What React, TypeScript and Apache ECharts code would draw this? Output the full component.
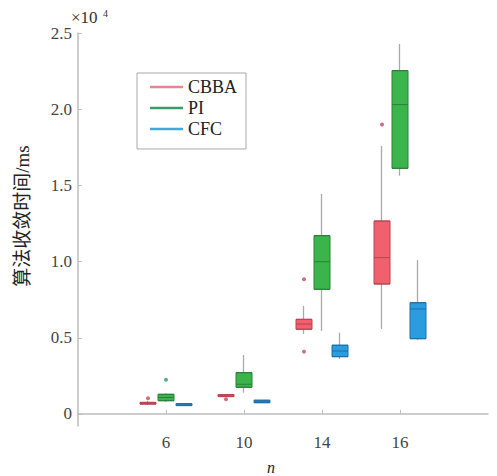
import React, { useEffect, useRef } from 'react';
import * as echarts from 'echarts';

// x categories (n)
const categories = ['6', '10', '14', '16'];
const seriesNames = ['CBBA', 'PI', 'CFC'];

// box data in ms: [min, Q1, median, Q3, max]
const cbbaBox = [
  [600, 650, 700, 760, 850],
  [1110, 1140, 1190, 1270, 1290],
  [5250, 5560, 5900, 6210, 7090],
  [5580, 8530, 10260, 12660, 17590],
];
const piBox = [
  [800, 870, 1080, 1290, 1350],
  [1400, 1750, 1950, 2710, 3870],
  [5450, 8180, 9990, 11700, 14440],
  [15640, 16120, 20300, 22530, 24280],
];
const cfcBox = [
  [520, 550, 600, 680, 700],
  [720, 740, 800, 900, 920],
  [3610, 3760, 4130, 4510, 5330],
  [4860, 4940, 6890, 7300, 10100],
];

// outliers: [category index, value in ms]
const cbbaOutliers = [[0, 1030], [1, 960], [2, 8840], [2, 4090], [3, 19000]];
const piOutliers = [[0, 2250]];
const cfcOutliers: number[][] = [];

// y-axis tick values (ms)
const yTicks = [0, 5000, 10000, 15000, 20000, 25000];
const yMin = -790;
const yMax = 25000;

const SERIF = 'Liberation Serif, Noto Sans CJK SC, serif';

const fills = ['#f0606d', '#3cb44c', '#2a9de0'];
const borders = ['#b94452', '#2a8039', '#1f6fa8'];
const legendColors = ['#e88593', '#3f9a68', '#45a8d8'];
const dotColors = ['#c8485a', '#2f9a6a', '#2a9de0'];

export default function App() {
  const ref = useRef<HTMLDivElement>(null);
  useEffect(() => {
    if (!ref.current) return;
    const chart = echarts.init(ref.current, undefined, { renderer: 'svg' });
    const boxes = [cbbaBox, piBox, cfcBox];
    const outliers = [cbbaOutliers, piOutliers, cfcOutliers];
    const lefts = [109, 127, 145];
    const rights = [76, 58, 40];

    const grids: any[] = [{ left: 78, right: 9, top: 33, bottom: 50 }];
    const xAxes: any[] = [
      {
        type: 'value', gridIndex: 0, min: 0, max: 1,
        axisLine: { show: true, lineStyle: { color: '#bdbdbd', width: 1.5 } },
        axisTick: { show: false }, axisLabel: { show: false }, splitLine: { show: false },
      },
    ];
    const yAxes: any[] = [
      {
        type: 'value', gridIndex: 0, min: yMin, max: yMax,
        axisLine: { show: true, lineStyle: { color: '#bdbdbd', width: 1.5 } },
        axisTick: { show: true, inside: true, length: 4, customValues: yTicks, lineStyle: { color: '#bdbdbd' } },
        axisLabel: {
          customValues: yTicks, margin: 6, fontSize: 17, fontFamily: SERIF, color: '#444',
          formatter: (v: number) => (v === 0 ? '0' : (v / 10000).toFixed(1)),
        },
        splitLine: { show: false },
      },
    ];
    const series: any[] = [];
    for (let i = 0; i < 3; i++) {
      grids.push({ left: lefts[i], right: rights[i], top: 33, bottom: 50 });
      const mid = i === 1;
      xAxes.push({
        type: 'category', gridIndex: i + 1, data: categories, boundaryGap: true,
        axisLine: { show: false },
        axisTick: { show: mid, inside: true, length: 4, alignWithLabel: true, lineStyle: { color: '#bdbdbd' } },
        axisLabel: { show: mid, margin: 8, fontSize: 17, fontFamily: SERIF, color: '#444' },
        splitLine: { show: false },
      });
      yAxes.push({ type: 'value', gridIndex: i + 1, min: yMin, max: yMax, show: false, splitLine: { show: false } });
      series.push({
        type: 'candlestick', xAxisIndex: i + 1, yAxisIndex: i + 1, barWidth: 1,
        data: boxes[i].map((b) => [b[1], b[3], b[0], b[4]]),
        itemStyle: { color: '#a9a9a9', color0: '#a9a9a9', borderColor: '#a9a9a9', borderColor0: '#a9a9a9', borderWidth: 1.3 },
        silent: true,
      });
      series.push({
        type: 'boxplot', name: seriesNames[i], xAxisIndex: i + 1, yAxisIndex: i + 1,
        boxWidth: [16, 16],
        data: boxes[i].map((b) => [b[1], b[1], b[2], b[3], b[3]]),
        itemStyle: { color: fills[i], borderColor: borders[i], borderWidth: 1 },
        silent: true,
      });
      series.push({
        type: 'scatter', xAxisIndex: i + 1, yAxisIndex: i + 1, symbolSize: 4,
        data: outliers[i], itemStyle: { color: dotColors[i] }, silent: true,
      });
    }

    chart.setOption({
      animation: false,
      backgroundColor: '#fff',
      grid: grids,
      xAxis: xAxes,
      yAxis: yAxes,
      legend: {
        orient: 'vertical', left: 137, top: 73,
        padding: [5, 9, 11, 13],
        borderColor: '#a8a8a8', borderWidth: 1,
        itemWidth: 33, itemHeight: 2.5, itemGap: 3, icon: 'rect',
        textStyle: { fontSize: 18, fontFamily: SERIF, color: '#222' },
        data: seriesNames.map((n, i) => ({ name: n, itemStyle: { color: legendColors[i], borderWidth: 0 } })),
      },
      graphic: [
        { type: 'text', x: 71, y: 9, style: { text: '×10', fontSize: 17, fontFamily: SERIF, fill: '#333' } },
        { type: 'text', x: 103, y: 8, style: { text: '4', fontSize: 10, fontFamily: SERIF, fill: '#333' } },
        {
          type: 'text', x: 22, y: 216, rotation: Math.PI / 2,
          style: { text: '算法收敛时间/ms', fontSize: 19, fontFamily: SERIF, fill: '#222', align: 'center', verticalAlign: 'middle' },
        },
        { type: 'text', x: 271, y: 467, style: { text: 'n', fontSize: 16, fontStyle: 'italic', fontFamily: SERIF, fill: '#222', align: 'center', verticalAlign: 'middle' } },
      ],
      series,
    });
    return () => chart.dispose();
  }, []);
  return <div ref={ref} style={{ position: 'fixed', left: 0, top: 0, width: 497, height: 476 }} />;
}
